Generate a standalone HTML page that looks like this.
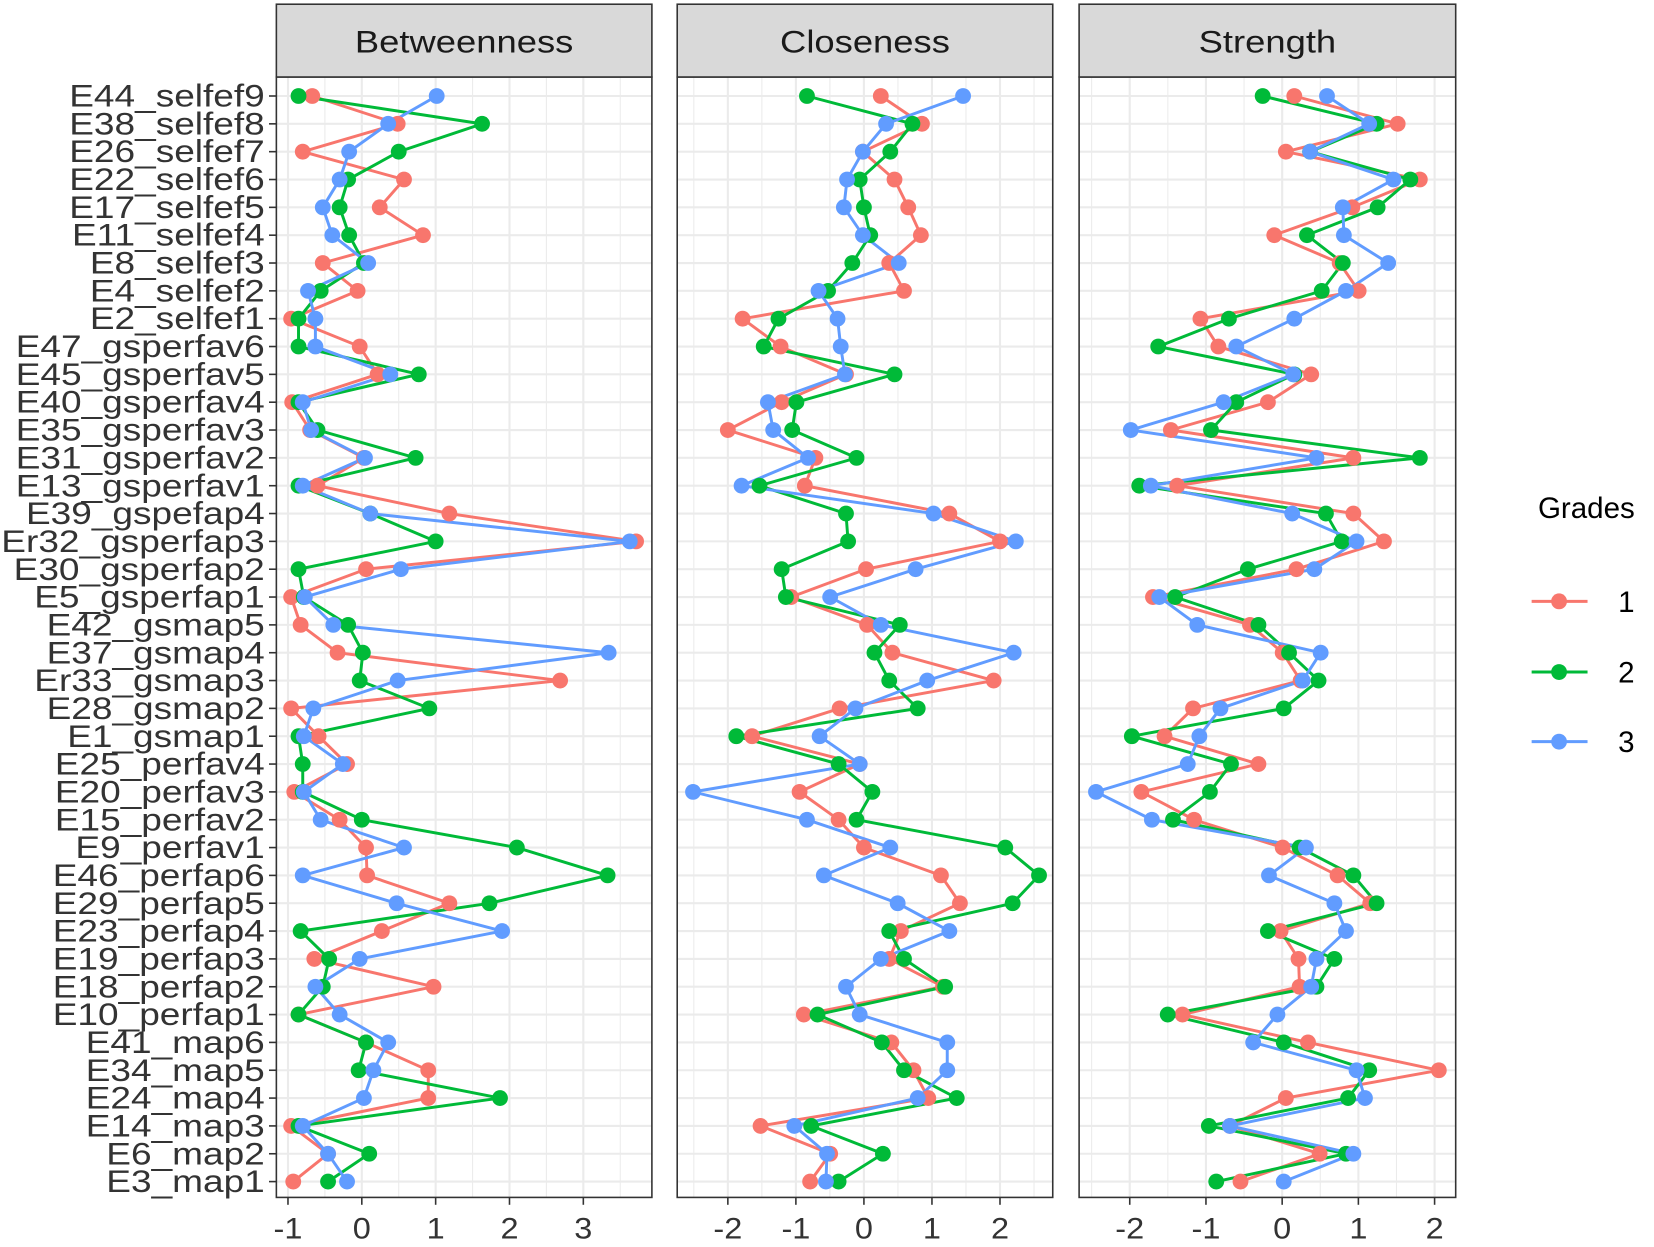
<!DOCTYPE html>
<html><head><meta charset="utf-8"><style>html,body{margin:0;padding:0;background:#fff}svg{display:block}</style></head>
<body>
<svg id="s" width="1654" height="1247" viewBox="0 0 1568 1182" preserveAspectRatio="none" xmlns="http://www.w3.org/2000/svg" font-family="Liberation Sans, sans-serif"></svg>
<script>
const labels=["E44_selfef9","E38_selfef8","E26_selfef7","E22_selfef6","E17_selfef5","E11_selfef4","E8_selfef3","E4_selfef2","E2_selfef1","E47_gsperfav6","E45_gsperfav5","E40_gsperfav4","E35_gsperfav3","E31_gsperfav2","E13_gsperfav1","E39_gspefap4","Er32_gsperfap3","E30_gsperfap2","E5_gsperfap1","E42_gsmap5","E37_gsmap4","Er33_gsmap3","E28_gsmap2","E1_gsmap1","E25_perfav4","E20_perfav3","E15_perfav2","E9_perfav1","E46_perfap6","E29_perfap5","E23_perfap4","E19_perfap3","E18_perfap2","E10_perfap1","E41_map6","E34_map5","E24_map4","E14_map3","E6_map2","E3_map1"];
const B=[[296,283,414],[377,457,368],[287,378,331],[383,330,322],[360,322,306],[401,331,315],[306,345,349],[339,304,292],[276,283,299],[341,283,299],[358,397,370],[277,283,287],[294,301,295],[345,394,346],[301,283,287],[426,351,351],[603,413,597],[347,283,380],[276,288,289],[285,330,316],[320,344,577],[531,341,377],[276,407,297],[302,283,288],[329,287,325],[279,287,288],[322,343,304],[347,490,383],[348,576,287],[426,464,376],[362,285,476],[298,312,341],[411,306,299],[283,283,322],[347,347,368],[406,340,354],[406,474,345],[276,283,287],[311,350,311],[278,311,329]];
const C=[[835,765,913],[874,865,840],[818,844,818],[848,815,803],[861,819,800],[873,825,818],[843,808,852],[857,785,776],[704,738,794],[740,724,797],[802,848,801],[741,755,728],[690,751,733],[773,812,766],[763,720,703],[900,802,885],[948,804,963],[821,741,868],[750,745,787],[822,853,835],[846,829,961],[942,843,879],[796,870,811],[713,698,777],[815,795,815],[758,827,657],[795,812,765],[819,953,844],[892,985,781],[910,960,851],[854,843,900],[843,857,835],[894,896,802],[762,775,815],[845,836,898],[866,857,898],[880,907,870],[721,769,753],[787,837,784],[768,795,783]];
const S=[[1227,1197,1258],[1325,1305,1298],[1219,1242,1242],[1346,1337,1321],[1282,1306,1273],[1208,1239,1274],[1270,1273,1316],[1288,1253,1276],[1138,1165,1227],[1155,1098,1172],[1243,1227,1226],[1202,1172,1160],[1110,1148,1072],[1283,1346,1248],[1116,1080,1091],[1283,1257,1225],[1312,1272,1286],[1229,1183,1246],[1093,1114,1099],[1185,1193,1135],[1216,1222,1252],[1233,1250,1235],[1131,1217,1157],[1104,1073,1137],[1193,1167,1126],[1082,1147,1039],[1132,1112,1092],[1216,1232,1238],[1268,1283,1203],[1299,1305,1265],[1214,1202,1276],[1231,1265,1248],[1232,1248,1243],[1121,1107,1211],[1240,1217,1188],[1364,1298,1286],[1219,1278,1294],[1166,1146,1166],[1251,1276,1283],[1176,1153,1217]];
const cols=["#F8766D","#00BA38","#619CFF"];
const yv=i=>91+i*(1120-91)/39;
const panels=[{x0:262,x1:618,t:"Betweenness",z:343,u:70,tk:[-1,0,1,2,3],d:B},
{x0:642,x1:998,t:"Closeness",z:819,u:64.5,tk:[-2,-1,0,1,2],d:C},
{x0:1023,x1:1380,t:"Strength",z:1215.5,u:72.25,tk:[-2,-1,0,1,2],d:S}];
let h="";
const T=73,Bt=1135;
for(const p of panels){
 h+=`<rect x="${p.x0}" y="${T}" width="${p.x1-p.x0}" height="${Bt-T}" fill="#fff"/>`;
 for(let v=-4;v<=4;v+=0.5){const x=p.z+v*p.u;if(x<=p.x0||x>=p.x1)continue;
  h+=`<line x1="${x}" y1="${T}" x2="${x}" y2="${Bt}" stroke="#ebebeb" stroke-width="${Number.isInteger(v)?2:1}"/>`;}
 for(let i=0;i<40;i++)h+=`<line x1="${p.x0}" y1="${yv(i)}" x2="${p.x1}" y2="${yv(i)}" stroke="#ebebeb" stroke-width="2"/>`;
 for(let g=0;g<3;g++){
  let pts=p.d.map((r,i)=>`${r[g]},${yv(i).toFixed(1)}`).join(" ");
  h+=`<polyline points="${pts}" fill="none" stroke="${cols[g]}" stroke-width="2.8"/>`;
 }
 for(let g=0;g<3;g++)p.d.forEach((r,i)=>{h+=`<circle cx="${r[g]}" cy="${yv(i)}" r="7.5" fill="${cols[g]}"/>`;});
 h+=`<rect x="${p.x0}" y="${T}" width="${p.x1-p.x0}" height="${Bt-T}" fill="none" stroke="#333" stroke-width="1.5"/>`;
 h+=`<rect x="${p.x0}" y="4" width="${p.x1-p.x0}" height="${T-4}" fill="#d9d9d9" stroke="#333" stroke-width="1.5"/>`;
 h+=`<text transform="translate(${(p.x0+p.x1)/2},50) scale(1.15,1)" font-size="30" text-anchor="middle" fill="#1a1a1a">${p.t}</text>`;
 for(const v of p.tk){const x=p.z+v*p.u;
  h+=`<line x1="${x}" y1="${Bt}" x2="${x}" y2="${Bt+7}" stroke="#333" stroke-width="1.5"/>`;
  h+=`<text transform="translate(${x},1174) scale(1.1,1)" font-size="28" text-anchor="middle" fill="#333">${v<0?"-"+(-v):v}</text>`;}
}
labels.forEach((l,i)=>{const y=yv(i);
 h+=`<line x1="255" y1="${y}" x2="262" y2="${y}" stroke="#333" stroke-width="1.5"/>`;
 h+=`<text transform="translate(251,${y+10}) scale(1.17,1)" font-size="30" text-anchor="end" fill="#333">${l}</text>`;});
h+=`<text x="1458" y="491" font-size="28" fill="#000">Grades</text>`;
[570,637,703].forEach((y,g)=>{
 h+=`<line x1="1452" y1="${y}" x2="1505" y2="${y}" stroke="${cols[g]}" stroke-width="2.8"/><circle cx="1478" cy="${y}" r="7.5" fill="${cols[g]}"/>`;
 h+=`<text x="1534" y="${y+10}" font-size="28" fill="#000">${g+1}</text>`;});
document.getElementById("s").innerHTML=h;
</script>
</body></html>
